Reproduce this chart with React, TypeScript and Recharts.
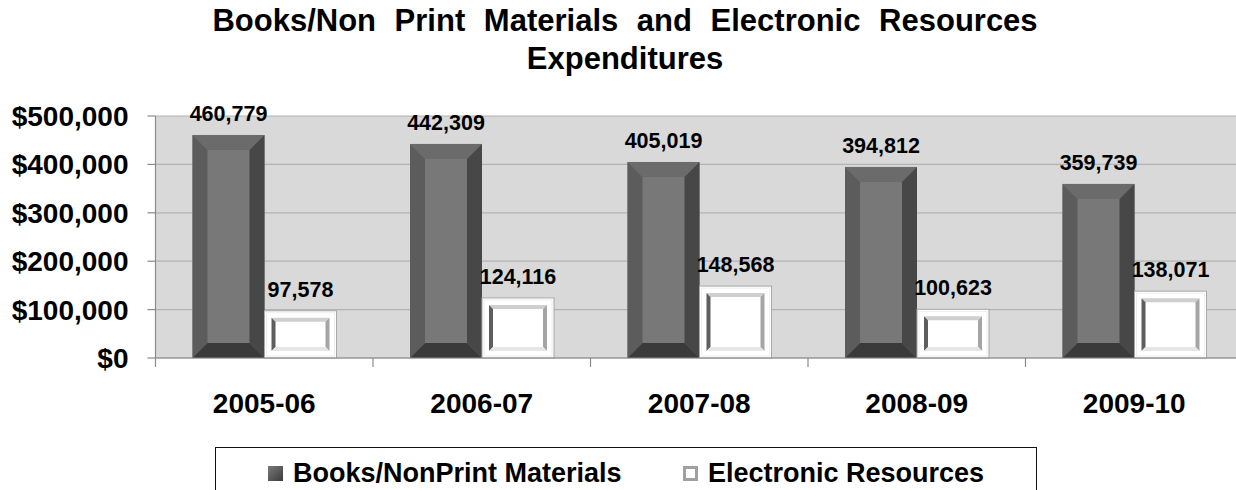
import React from 'react';
import { BarChart, Bar, XAxis, YAxis, CartesianGrid, LabelList } from 'recharts';

const categories = ['2005-06', '2006-07', '2007-08', '2008-09', '2009-10'];
const booksValues = [460779, 442309, 405019, 394812, 359739];
const electronicValues = [97578, 124116, 148568, 100623, 138071];
const yTicks = [0, 100000, 200000, 300000, 400000, 500000];

const data = categories.map((name, i) => ({
  name,
  books: booksValues[i],
  electronic: electronicValues[i],
}));

const FONT = '"Liberation Sans", Arial, Helvetica, sans-serif';
const CHART_W = 1245;
const CHART_H = 490;
const AXIS_W = 155.5;
const PLOT_W = 1087.5;
const BAND = PLOT_W / categories.length;

const money = (v: number) => '$' + v.toLocaleString('en-US');
const plain = (v: any) => Number(v).toLocaleString('en-US');

// dark bevelled bar
const DarkBar = (props: any) => {
  const { x, y, width, height } = props;
  if (!height || height <= 0) return null;
  const b = Math.min(15, width / 2, height / 2);
  const x2 = x + width;
  const y2 = y + height;
  return (
    <g>
      <rect x={x} y={y} width={width} height={height} fill="#787878" />
      <polygon points={`${x},${y} ${x2},${y} ${x2 - b},${y + b} ${x + b},${y + b}`} fill="#6b6b6b" />
      <polygon points={`${x},${y} ${x + b},${y + b} ${x + b},${y2 - b} ${x},${y2}`} fill="#5c5c5c" />
      <polygon points={`${x2},${y} ${x2},${y2} ${x2 - b},${y2 - b} ${x2 - b},${y + b}`} fill="#474747" />
      <polygon points={`${x},${y2} ${x + b},${y2 - b} ${x2 - b},${y2 - b} ${x2},${y2}`} fill="#3a3a3a" />
    </g>
  );
};

// white framed bar
const WhiteBar = (props: any) => {
  const { x, y, width, height } = props;
  if (!height || height <= 0) return null;
  const i = 7;
  const b = 4;
  const ix = x + i;
  const iy = y + i;
  const ix2 = x + width - i;
  const iy2 = y + height - i;
  return (
    <g>
      <rect x={x} y={y} width={width} height={height} fill="#ffffff" stroke="#a8a8a8" strokeWidth={1} />
      <rect x={x + 2} y={y + 2} width={width - 4} height={height - 4} fill="none" stroke="#eeeeee" strokeWidth={1} />
      <polygon points={`${ix},${iy} ${ix2},${iy} ${ix2 - b},${iy + b} ${ix + b},${iy + b}`} fill="#cfcfcf" />
      <polygon points={`${ix},${iy} ${ix + b},${iy + b} ${ix + b},${iy2 - b} ${ix},${iy2}`} fill="#5e5e5e" />
      <polygon points={`${ix2},${iy} ${ix2},${iy2} ${ix2 - b},${iy2 - b} ${ix2 - b},${iy + b}`} fill="#a5a5a5" />
      <polygon points={`${ix},${iy2} ${ix + b},${iy2 - b} ${ix2 - b},${iy2 - b} ${ix2},${iy2}`} fill="#e6e6e6" />
    </g>
  );
};

const CategoryTick = (props: any) => {
  const { x, y, payload } = props;
  const bx = x - BAND / 2;
  return (
    <g>
      <line x1={bx} x2={bx} y1={y} y2={y + 9} stroke="#8a8a8a" strokeWidth={1.2} />
      <text x={x} y={y + 55} textAnchor="middle" fontFamily={FONT} fontWeight="bold" fontSize={28} fill="#000">
        {payload.value}
      </text>
    </g>
  );
};

const labelStyle = { fontFamily: FONT, fontWeight: 'bold' as const, fontSize: 21.5, fill: '#000' };

const LegendBox = () => (
  <div
    style={{
      position: 'absolute',
      left: 215,
      top: 447,
      width: 822,
      height: 60,
      border: '1.5px solid #111',
      boxSizing: 'border-box',
      background: '#fff',
      fontFamily: FONT,
      fontWeight: 'bold',
      fontSize: 27,
      color: '#000',
    }}
  >
    <div style={{ position: 'absolute', left: 52, top: 18, width: 15, height: 15, background: 'linear-gradient(135deg,#7a7a7a,#3c3c3c)' }} />
    <div style={{ position: 'absolute', left: 77, top: 9, lineHeight: '32px', whiteSpace: 'nowrap' }}>Books/NonPrint Materials</div>
    <div style={{ position: 'absolute', left: 467, top: 18, width: 15, height: 15, boxSizing: 'border-box', border: '3px solid #a0a0a0', background: '#fff' }} />
    <div style={{ position: 'absolute', left: 492, top: 9, lineHeight: '32px', whiteSpace: 'nowrap' }}>Electronic Resources</div>
  </div>
);

export default function App() {
  return (
    <div style={{ position: 'relative', width: 1236, height: CHART_H, overflow: 'hidden', background: '#fff' }}>
      <style>{'body{margin:0}'}</style>
      <div
        style={{
          position: 'absolute',
          top: 2,
          left: 14,
          width: 1222,
          textAlign: 'center',
          fontFamily: FONT,
          fontWeight: 'bold',
          fontSize: 31,
          lineHeight: '38px',
          wordSpacing: 10,
          color: '#000',
        }}
      >
        Books/Non Print Materials and Electronic Resources
        <br />
        Expenditures
      </div>
      <div style={{ position: 'absolute', left: 0, top: 0 }}>
        <BarChart
          width={CHART_W}
          height={CHART_H}
          data={data}
          margin={{ top: 116, right: CHART_W - AXIS_W - PLOT_W, bottom: 72, left: 0 }}
          barGap={0}
          barSize={72}
        >
          <CartesianGrid vertical={false} fill="#d9d9d9" stroke="#b2b2b2" strokeWidth={1.2} />
          <XAxis
            dataKey="name"
            tickLine={false}
            tickSize={0}
            tickMargin={0}
            height={60}
            axisLine={{ stroke: '#8a8a8a', strokeWidth: 1.2 }}
            tick={<CategoryTick />}
            interval={0}
          />
          <YAxis
            width={AXIS_W}
            domain={[0, 500000]}
            ticks={yTicks}
            tickFormatter={money}
            tickSize={8}
            tickMargin={19}
            axisLine={{ stroke: '#8a8a8a', strokeWidth: 1.2 }}
            tickLine={{ stroke: '#8a8a8a', strokeWidth: 1.2 }}
            tick={{ fontFamily: FONT, fontWeight: 'bold', fontSize: 28, fill: '#000' }}
          />
          <Bar dataKey="books" shape={<DarkBar />} isAnimationActive={false}>
            <LabelList dataKey="books" position="top" offset={14} formatter={plain} style={labelStyle} />
          </Bar>
          <Bar dataKey="electronic" shape={<WhiteBar />} isAnimationActive={false}>
            <LabelList dataKey="electronic" position="top" offset={14} formatter={plain} style={labelStyle} />
          </Bar>
        </BarChart>
      </div>
      <LegendBox />
    </div>
  );
}
